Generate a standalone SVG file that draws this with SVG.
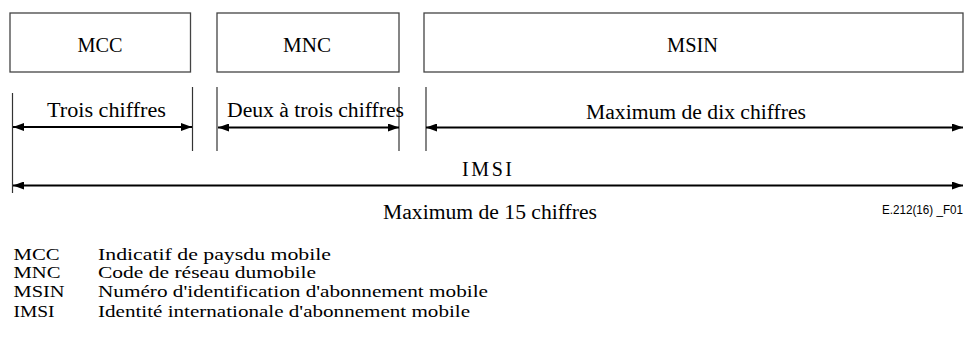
<svg xmlns="http://www.w3.org/2000/svg" width="964" height="337" viewBox="0 0 964 337">
<defs>
<style>
.box{fill:#fff;stroke:#444;stroke-width:1.3}
.tick{stroke:#333;stroke-width:1.2}
.arr{stroke:#000;stroke-width:2;fill:none;marker-start:url(#ah);marker-end:url(#ah)}
</style>
<marker id="ah" markerUnits="userSpaceOnUse" markerWidth="11" markerHeight="8" refX="11" refY="4" orient="auto-start-reverse">
<path d="M0,0 L11,4 L0,8 z" fill="#000"/>
</marker>
</defs>
<g id="mcc">
<rect class="box" x="10" y="13" width="180.5" height="59"/>
<text font-family="'Liberation Serif', 'DejaVu Serif', serif" font-size="20" x="100" y="51.5" text-anchor="middle" textLength="45" lengthAdjust="spacingAndGlyphs">MCC</text>
</g>
<g id="mnc">
<rect class="box" x="217" y="13" width="182" height="59"/>
<text font-family="'Liberation Serif', 'DejaVu Serif', serif" font-size="20" x="307" y="51.5" text-anchor="middle" textLength="48" lengthAdjust="spacingAndGlyphs">MNC</text>
</g>
<g id="msin">
<rect class="box" x="424" y="13" width="539" height="59"/>
<text font-family="'Liberation Serif', 'DejaVu Serif', serif" font-size="20" x="692.5" y="51.5" text-anchor="middle" textLength="51" lengthAdjust="spacingAndGlyphs">MSIN</text>
</g>
<g id="connectors">
<line class="tick" x1="12.5" y1="93" x2="12.5" y2="193"/>
<line class="tick" x1="192.5" y1="87" x2="192.5" y2="151"/>
<line class="tick" x1="217" y1="87" x2="217" y2="151"/>
<line class="tick" x1="399" y1="87" x2="399" y2="151"/>
<line class="tick" x1="426" y1="87" x2="426" y2="151"/>
<line class="arr" x1="13" y1="127" x2="192" y2="127"/>
<line class="arr" x1="218" y1="127.5" x2="399" y2="127.5"/>
<line class="arr" x1="426" y1="127.5" x2="963" y2="127.5"/>
<line class="arr" x1="13" y1="185.5" x2="963" y2="185.5"/>
</g>
<g id="labels" font-family="'Liberation Serif', 'DejaVu Serif', serif" font-size="20">
<text x="47" y="117" textLength="119" lengthAdjust="spacingAndGlyphs">Trois chiffres</text>
<text x="227" y="117" textLength="177" lengthAdjust="spacingAndGlyphs">Deux à trois chiffres</text>
<text x="586" y="119" textLength="220" lengthAdjust="spacingAndGlyphs">Maximum de dix chiffres</text>
<text x="462" y="176" textLength="50" lengthAdjust="spacing">IMSI</text>
<text x="383" y="219" textLength="214" lengthAdjust="spacingAndGlyphs">Maximum de 15 chiffres</text>
<text font-family="'Liberation Sans', Arial, sans-serif" font-size="12" x="882" y="214" textLength="81" lengthAdjust="spacingAndGlyphs">E.212(16) _F01</text>
</g>
<g id="legend" font-family="'Liberation Serif', 'DejaVu Serif', serif" font-size="16">
<text x="13.5" y="260" textLength="46" lengthAdjust="spacingAndGlyphs">MCC</text>
<text x="98" y="260" textLength="233" lengthAdjust="spacingAndGlyphs">Indicatif de paysdu mobile</text>
<text x="13.5" y="278" textLength="47" lengthAdjust="spacingAndGlyphs">MNC</text>
<text x="98" y="278" textLength="218" lengthAdjust="spacingAndGlyphs">Code de réseau dumobile</text>
<text x="13.5" y="297" textLength="51" lengthAdjust="spacingAndGlyphs">MSIN</text>
<text x="98" y="297" textLength="390" lengthAdjust="spacingAndGlyphs">Numéro d'identification d'abonnement mobile</text>
<text x="13.5" y="317" textLength="41" lengthAdjust="spacingAndGlyphs">IMSI</text>
<text x="98" y="317" textLength="372" lengthAdjust="spacingAndGlyphs">Identité internationale d'abonnement mobile</text>
</g>
</svg>
